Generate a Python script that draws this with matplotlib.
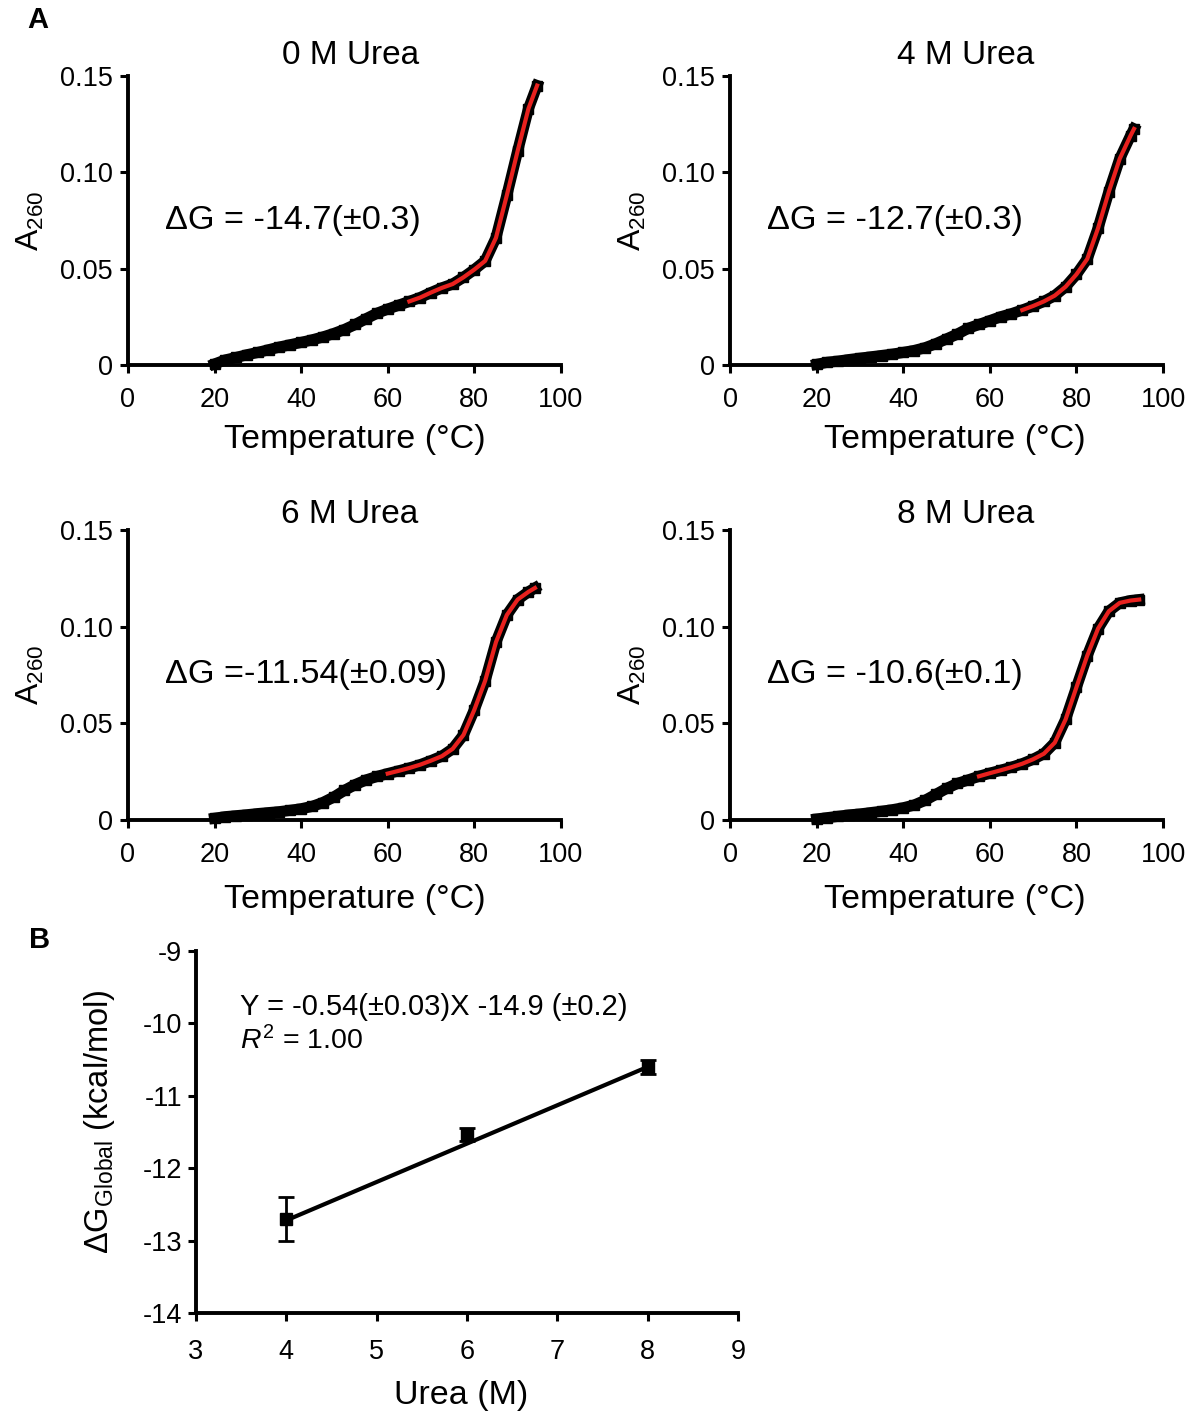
import matplotlib
matplotlib.use('Agg')
import matplotlib.pyplot as plt

plt.rcParams['font.family'] = ['Liberation Sans', 'DejaVu Sans']
plt.rcParams['mathtext.fontset'] = 'custom'
plt.rcParams['mathtext.rm'] = 'Liberation Sans'
plt.rcParams['mathtext.it'] = 'Liberation Sans:italic'
plt.rcParams['axes.unicode_minus'] = False

# melting curves (temperature in C, A260)
temp = [20, 22.5, 25, 27.5, 30, 32.5, 35, 37.5, 40, 42.5, 45, 47.5, 50, 52.5, 55, 57.5,
        60, 62.5, 65, 67.5, 70, 72.5, 75, 77.5, 80, 82.5, 85, 87.5, 90, 92.5]

a_0m = [0.0005, 0.0026, 0.0039, 0.0053, 0.0065, 0.0079, 0.0093, 0.0105, 0.0117, 0.013,
        0.0145, 0.0163, 0.0184, 0.021, 0.024, 0.0268, 0.029, 0.031, 0.033, 0.035,
        0.0376, 0.040, 0.042, 0.0455, 0.0495, 0.054, 0.066, 0.088, 0.111, 0.133]
a_4m = [0.0003, 0.0014, 0.002, 0.0028, 0.0035, 0.0042, 0.0049, 0.0056, 0.0065, 0.0075,
        0.0089, 0.011, 0.0135, 0.016, 0.019, 0.021, 0.023, 0.025, 0.0266, 0.0285,
        0.0306, 0.033, 0.036, 0.0406, 0.047, 0.055, 0.071, 0.090, 0.107, 0.119]
a_6m = [0.0009, 0.0017, 0.0022, 0.0027, 0.0033, 0.0038, 0.0043, 0.005, 0.0058, 0.007,
        0.009, 0.0118, 0.0153, 0.0183, 0.0207, 0.0225, 0.024, 0.0254, 0.0269, 0.0286,
        0.0307, 0.033, 0.0368, 0.044, 0.057, 0.072, 0.092, 0.106, 0.114, 0.118]
a_8m = [0.0005, 0.0012, 0.0019, 0.0026, 0.0031, 0.0038, 0.0045, 0.0053, 0.0063, 0.0077,
        0.0101, 0.0132, 0.0163, 0.0189, 0.0207, 0.0226, 0.0242, 0.0257, 0.0273, 0.0291,
        0.0314, 0.0343, 0.040, 0.052, 0.0686, 0.085, 0.099, 0.108, 0.1123, 0.1135]

# last points of each run
t_end = [94.5, 93.3, 94.0, 94.5]
a_end = [0.145, 0.1225, 0.120, 0.114]

fit_start = [65, 67.5, 60, 57.5]
titles = ['0 M Urea', '4 M Urea', '6 M Urea', '8 M Urea']
dg_text = ['\u0394G = -14.7(\u00b10.3)', '\u0394G = -12.7(\u00b10.3)',
           '\u0394G =-11.54(\u00b10.09)', '\u0394G = -10.6(\u00b10.1)']

# panel B
urea = [4, 6, 8]
dg = [-12.7, -11.54, -10.6]
dg_err = [0.3, 0.09, 0.1]
fit_x = [4, 8]
fit_y = [-12.72, -10.6]

fig = plt.figure(figsize=(11.97, 14.14), dpi=100)

rects = [[0.1069, 0.7419, 0.3617, 0.2044],
         [0.6099, 0.7419, 0.3617, 0.2044],
         [0.1069, 0.4201, 0.3617, 0.2051],
         [0.6099, 0.4201, 0.3617, 0.2051]]
title_x = [0.513, 0.543, 0.513, 0.543]
title_y = [1.07, 1.07, 1.055, 1.055]
xlab_x = [0.524, 0.52, 0.524, 0.52]
xlab_y = [-0.205, -0.205, -0.22, -0.22]
curves = [a_0m, a_4m, a_6m, a_8m]

def style(ax, xpad=10, ypad=5):
    for s in ['top', 'right']:
        ax.spines[s].set_visible(False)
    for s in ['left', 'bottom']:
        ax.spines[s].set_linewidth(2.8)
    ax.tick_params(width=2.2, length=6, labelsize=19.5)
    ax.tick_params(axis='x', pad=xpad)
    ax.tick_params(axis='y', pad=ypad)

for i in range(4):
    ax = fig.add_axes(rects[i])
    t = temp + [t_end[i]]
    a = curves[i] + [a_end[i]]
    ax.plot(t, a, color='black', lw=8, marker='s', ms=7, clip_on=False, zorder=3)
    tf = [x for x in t if x >= fit_start[i]]
    af = a[len(t) - len(tf):]
    ax.plot(tf, af, color='#e8211e', lw=3, clip_on=False, zorder=4)
    ax.set_xlim(0, 100)
    ax.set_ylim(0, 0.15)
    ax.set_xticks([0, 20, 40, 60, 80, 100])
    ax.set_yticks([0, 0.05, 0.10, 0.15])
    ax.set_yticklabels(['0', '0.05', '0.10', '0.15'])
    style(ax)
    ax.set_xlabel('Temperature (\u00b0C)', fontsize=24.5)
    ax.xaxis.set_label_coords(xlab_x[i], xlab_y[i])
    ax.set_ylabel('A$_{\\mathregular{260}}$', fontsize=23, labelpad=10)
    ax.text(title_x[i], title_y[i], titles[i], transform=ax.transAxes, fontsize=24,
            ha='center', va='center')
    ax.text(0.085, 0.5, dg_text[i], transform=ax.transAxes, fontsize=24.7,
            ha='left', va='center')

axb = fig.add_axes([0.1637, 0.0714, 0.4528, 0.2560])
axb.plot(fit_x, fit_y, color='black', lw=3, zorder=2)
axb.errorbar(urea, dg, yerr=dg_err, fmt='s', color='black', ms=8, capsize=6,
             elinewidth=2, capthick=2, zorder=3)
axb.set_xlim(3, 9)
axb.set_ylim(-14, -9)
axb.set_xticks([3, 4, 5, 6, 7, 8, 9])
axb.set_yticks([-14, -13, -12, -11, -10, -9])
style(axb, xpad=13, ypad=4)
axb.set_xlabel('Urea (M)', fontsize=24.5)
axb.xaxis.set_label_coords(0.49, -0.185)
axb.set_ylabel('\u0394G$_{\\mathregular{Global}}$ (kcal/mol)', fontsize=23.5)
axb.yaxis.set_label_coords(-0.146, 0.528)
axb.text(3.49, -9.77, 'Y = -0.54(\u00b10.03)X -14.9 (\u00b10.2)', fontsize=21,
         ha='left', va='center')
axb.text(3.49, -10.24, '$\\it{R}^{\\mathregular{2}}$ = 1.00', fontsize=20.5,
         ha='left', va='center')

fig.text(0.0317, 0.9859, 'A', fontsize=21, fontweight='bold', ha='center', va='center')
fig.text(0.0334, 0.3352, 'B', fontsize=21, fontweight='bold', ha='center', va='center')

fig.savefig('out.png', dpi=100)
